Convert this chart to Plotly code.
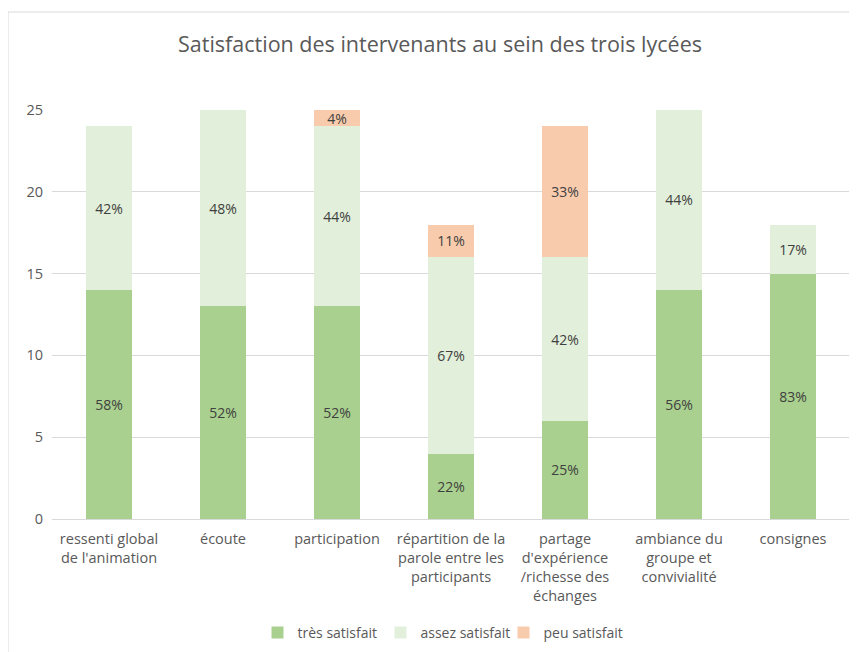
import plotly.graph_objects as go

categories = ["ressenti global<br>de l'animation", "écoute", "participation",
              "répartition de la<br>parole entre les<br>participants",
              "partage<br>d'expérience<br>/richesse des<br>échanges",
              "ambiance du<br>groupe et<br>convivialité", "consignes"]
tres = [14, 13, 13, 4, 6, 14, 15]
assez = [10, 12, 11, 12, 10, 11, 3]
peu = [0, 0, 1, 2, 8, 0, 0]
tres_lbl = ["58%", "52%", "52%", "22%", "25%", "56%", "83%"]
assez_lbl = ["42%", "48%", "44%", "67%", "42%", "44%", "17%"]
peu_lbl = ["", "", "4%", "11%", "33%", "", ""]

FONT = "Open Sans, Liberation Sans, sans-serif"
fig = go.Figure()
for name, vals, lbl, col in [("très satisfait", tres, tres_lbl, "#A9D08E"),
                             ("assez satisfait", assez, assez_lbl, "#E2EFDA"),
                             ("peu satisfait", peu, peu_lbl, "#F8CBAD")]:
    fig.add_trace(go.Bar(x=categories, y=vals, name=name, marker_color=col,
                         marker_line_width=0, text=lbl, textposition="inside",
                         insidetextanchor="middle", textangle=0, constraintext="none",
                         textfont=dict(family=FONT, size=14, color="#404040"),
                         hoverinfo="skip"))

OFF = 8  # page body offset
L, R, T, B = 52 - OFF, 850 - OFF, 110 - OFF, 519 - OFF
W, H = R - L, B - T
def px(x): return (x - OFF - L) / W
def py(y): return (B - (y - OFF)) / H

fig.update_layout(
    barmode="stack", bargap=0.6,
    width=857, height=652,
    margin=dict(l=L, r=857 - R, t=T, b=652 - B, autoexpand=False),
    paper_bgcolor="white", plot_bgcolor="white",
    title=dict(text="Satisfaction des intervenants au sein des trois lycées",
               x=(440 - OFF) / 857, xanchor="center", y=1 - (44 - OFF) / 652, yanchor="middle",
               font=dict(family=FONT, size=21.5, color="#595959")),
    font=dict(family=FONT, color="#595959"),
    showlegend=True,
    legend=dict(orientation="h", x=px(442), xanchor="center", y=py(633), yanchor="middle",
                font=dict(family=FONT, size=14, color="#595959"),
                itemwidth=30, entrywidth=78, traceorder="normal"),
)
fig.update_xaxes(showgrid=False, showline=True, linecolor="#D9D9D9", linewidth=1,
                 tickfont=dict(family=FONT, size=14.5, color="#595959"), ticks="",
                 ticklabelstandoff=7, fixedrange=True)
fig.update_yaxes(range=[0, 25], dtick=5, showgrid=True, gridcolor="#D9D9D9", gridwidth=1,
                 zeroline=False, showline=False,
                 tickfont=dict(family=FONT, size=14.5, color="#595959"), ticks="",
                 ticklabelstandoff=8, fixedrange=True)
fig.add_shape(type="rect", xref="paper", yref="paper",
              x0=px(8), x1=px(870), y0=py(670), y1=py(12),
              line=dict(color="#D9D9D9", width=1), fillcolor="rgba(0,0,0,0)", layer="below")
fig.write_html("out.html")
